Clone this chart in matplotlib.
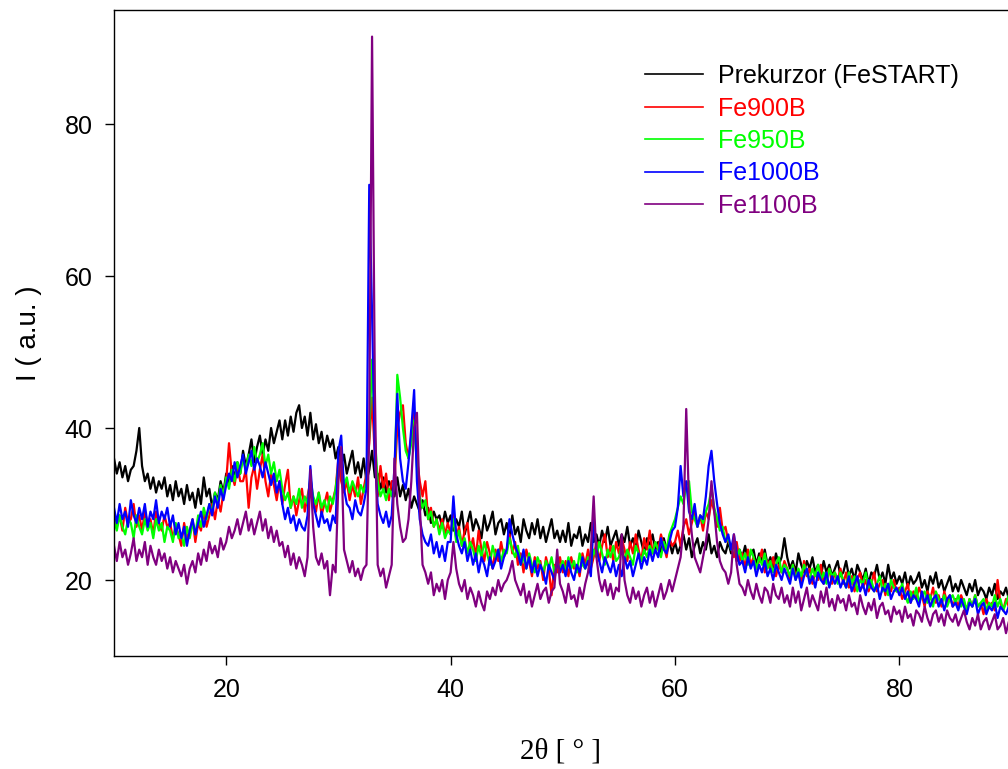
import numpy as np
import matplotlib
matplotlib.use("Agg")
import matplotlib.pyplot as plt

# XRD patterns, one value every 0.25 deg from 10 to 90
step = 0.25
start = 10

prekurzor = [
    36, 34, 35.5, 33.5, 35, 33, 34.5, 35, 37, 40, 35, 33, 34, 32, 33.5, 31.5, 33, 32, 33.5, 31,
    32.5, 30.5, 33, 31, 32, 30, 32.5, 30.5, 31.5, 29.5, 32, 30, 33.5, 31, 32, 29.5, 31.5, 30.5, 33, 31.5,
    34, 32.5, 35, 33.5, 35.5, 34, 37, 35, 36.5, 38.5, 35.5, 37.5, 39, 36.5, 38.5, 37, 40, 38, 39.5, 41,
    38.5, 41, 39, 41.5, 39.5, 42, 43, 40, 41.5, 39, 42, 38.5, 40.5, 38, 39.5, 37, 39, 37.5, 38.5, 36,
    37.5, 35, 36.5, 34, 35.5, 37, 34, 35.5, 33.5, 36, 33, 34.5, 37, 33.5, 34, 32, 33.5, 31.5, 33, 32,
    31, 33.5, 31, 32.5, 30.5, 32, 29.5, 31, 30, 29, 30.5, 28.5, 29.5, 27.5, 29, 28, 28.5, 27, 29, 27.5,
    28.5, 26.5, 28, 27, 29, 26, 27.5, 29, 26.5, 28, 27, 25.5, 28.5, 26.5, 27.5, 29, 26, 27.5, 28, 26,
    27.5, 25.5, 28.5, 26, 27, 25, 28, 26.5, 25.5, 27.5, 26, 28, 25.5, 27, 25, 26.5, 28, 25.5, 26.5, 25,
    26.5, 25, 27.5, 24.5, 26, 25.5, 27, 24.5, 26, 25, 27.5, 25, 26, 24.5, 26.5, 25, 27, 24.5, 25.5, 26.5,
    24.5, 26, 25, 27, 24.5, 25.5, 24, 26.5, 25, 23.5, 25.5, 24.5, 26, 24, 25, 23.5, 25.5, 24, 25, 23.5,
    25, 23.5, 24.5, 26, 24, 25.5, 23, 24.5, 25.5, 23.5, 25, 24, 26, 23.5, 24.5, 23, 25, 24, 23.5, 25,
    23.5, 25, 22.5, 24, 23, 24.5, 22.5, 23.5, 24, 22, 23.5, 22.5, 24, 22, 23, 21.5, 23.5, 22, 23, 25.5,
    23, 21.5, 22.5, 21, 23.5, 22, 21, 22.5, 21.5, 23, 21, 22, 20.5, 22.5, 21, 22, 20.5, 21.5, 22.5, 20.5,
    21, 22.5, 20.5, 21.5, 20, 22, 21, 20, 21.5, 19.5, 21, 20.5, 22, 20, 21, 19.5, 22, 20, 21, 19.5,
    20.5, 19.5, 21, 19, 20.5, 19.5, 20, 21, 19, 20, 18.5, 20.5, 19.5, 21, 19, 20, 18.5, 19.5, 20.5, 18.5,
    19.5, 18.5, 20, 19, 18, 19.5, 18.5, 20, 18, 19, 18.5, 17.5, 19, 18, 19.5, 17.5, 18.5, 18, 19, 17.5, 18.5,
]

fe900b = [
    29, 27, 28.5, 26.5, 29.5, 27.5, 28, 30, 27, 28.5, 26.5, 29, 27.5, 28, 26, 29, 27.5, 26.5, 28.5, 27,
    27.5, 25.5, 27, 26, 24.5, 27.5, 25.5, 26.5, 28, 25, 27.5, 26.5, 29, 27, 28.5, 30, 28, 30.5, 29, 31.5,
    33, 38, 34, 32.5, 35, 33, 33, 34.5, 29.5, 33.5, 35, 32, 34.5, 36.5, 33, 31, 34, 32.5, 30.5, 33,
    30, 32.5, 34.5, 29.5, 31, 28.5, 30.5, 32, 29, 31, 33, 30.5, 29, 31.5, 28.5, 30, 31.5, 29, 30.5, 32,
    36, 33, 31.5, 33, 30.5, 32.5, 31, 33.5, 30, 32, 34, 38, 44, 36, 31, 35, 32, 34, 30.5, 33,
    33, 40, 42, 43, 38, 36, 39, 42, 36, 33, 31, 33, 28, 29.5, 27, 28, 26.5, 28, 26, 27.5,
    26, 29, 25.5, 27, 24.5, 26.5, 27.5, 24, 25.5, 23, 26.5, 24, 22.5, 25, 23.5, 21.5, 24, 22.5, 25, 23,
    24, 26, 23.5, 25, 22, 23.5, 21, 24, 22.5, 20.5, 23, 21.5, 22.5, 20, 23, 21.5, 18, 22, 21, 23,
    21, 22.5, 20.5, 23, 21.5, 22, 20.5, 23.5, 22, 24, 21.5, 23, 25, 22.5, 24.5, 26, 23, 24.5, 22.5, 25,
    23.5, 25.5, 24, 22.5, 25, 23.5, 26, 24, 22.5, 25.5, 24, 26.5, 23.5, 25, 24, 26, 24.5, 23, 25.5, 24.5,
    25, 26.5, 24.5, 27, 28, 26, 27.5, 29, 27, 28.5, 26.5, 29, 28, 30.5, 29, 27, 29.5, 26.5, 27, 25,
    24.5, 23, 25, 22.5, 23.5, 21.5, 24, 22, 23, 21.5, 22.5, 24, 21, 22.5, 21.5, 23, 20.5, 22, 21, 22.5,
    21.5, 20, 22, 20.5, 21, 19.5, 22.5, 20.5, 21.5, 19.5, 21, 20, 22, 19.5, 20.5, 21.5, 19.5, 21, 20, 21.5,
    19.5, 21, 19, 20.5, 18.5, 20, 21, 19, 20, 18.5, 19.5, 21, 18.5, 19.5, 20, 18, 19.5, 18.5, 20, 18.5,
    19, 17.5, 18.5, 19.5, 17, 18.5, 17.5, 19, 18, 16.5, 18.5, 17.5, 19, 17, 18, 16.5, 18.5, 17, 18, 16.5,
    17.5, 16.5, 18, 17, 16, 17.5, 16.5, 18, 16.5, 17, 15.5, 17.5, 16.5, 17, 16, 20, 17, 16, 17.5, 16.5, 17,
]

fe950b = [
    28, 26.5, 28.5, 27, 26, 28, 27.5, 25.5, 28.5, 27, 26, 28, 26.5, 27.5, 25.5, 28, 26.5, 27.5, 25, 27,
    26.5, 25, 27.5, 25.5, 26, 24.5, 27, 25.5, 27.5, 26, 28.5, 27, 29.5, 28, 30, 29, 31.5, 30, 32.5, 31,
    33.5, 32, 34.5, 33, 35.5, 34, 36, 34.5, 36.5, 35, 37.5, 35.5, 36.5, 38, 35, 36.5, 34, 35.5, 33, 34.5,
    32, 30.5, 31.5, 29.5, 31, 30, 32, 29.5, 31, 30, 33.5, 31, 30, 31.5, 29.5, 30.5, 29, 31, 30, 32,
    35, 36.5, 32.5, 33.5, 31.5, 33, 32, 31, 32.5, 31.5, 33, 39, 49, 39, 33, 31, 32, 30.5, 32, 31,
    33, 47, 44, 40, 37, 36, 38, 41, 35, 31, 29.5, 30.5, 28, 29, 27, 28, 26, 27.5, 25.5, 26.5,
    26, 28, 25, 26.5, 24.5, 25.5, 23.5, 25, 24, 22.5, 24.5, 23, 25, 23.5, 22, 24.5, 23, 24, 22.5, 24,
    23.5, 25.5, 24, 23, 24.5, 22, 23, 21.5, 23.5, 22, 21, 23, 22, 21, 22.5, 21.5, 23, 21, 22.5, 21.5,
    22.5, 21, 23, 21.5, 22.5, 21, 23.5, 22, 21.5, 23, 22, 24, 23, 25, 23.5, 22, 24, 23, 24.5, 22.5,
    23, 24.5, 22.5, 24, 23, 22, 24.5, 23.5, 22.5, 24, 23, 24.5, 23.5, 25, 24, 23, 25, 24, 26, 27,
    28, 29.5, 31, 30, 32.5, 33, 29, 28, 27, 28.5, 27.5, 29, 30, 32, 29.5, 28, 26.5, 27, 25, 25.5,
    24, 25, 23, 24, 22.5, 23.5, 22, 24, 23, 21.5, 23, 22, 23.5, 21.5, 22.5, 21, 22, 23, 21, 22,
    21.5, 20.5, 22, 20, 21.5, 20.5, 22, 21, 20, 21.5, 20.5, 22, 20, 21, 19.5, 21.5, 20.5, 21, 19.5, 21,
    20, 19, 21, 19.5, 20.5, 18.5, 20, 19.5, 21, 19, 20, 18.5, 19.5, 20.5, 18.5, 19.5, 18, 20, 19, 18.5,
    18.5, 19.5, 18, 17, 18.5, 17.5, 19, 17, 18, 18.5, 17, 18, 16.5, 18.5, 17.5, 17, 18, 16.5, 17.5, 18,
    17, 18, 16.5, 17.5, 16, 17.5, 16.5, 18, 16.5, 17, 17.5, 16, 17, 16.5, 18, 16.5, 17.5, 16, 17, 18, 17,
]

fe1000b = [
    29.5, 27.5, 30, 28, 29, 27, 30.5, 28.5, 27.5, 29.5, 28, 30, 27, 29, 28, 30.5, 27.5, 29, 28, 29.5,
    27, 28.5, 26, 27.5, 25.5, 27, 24.5, 26.5, 28, 26, 27.5, 29, 27, 28.5, 30, 28.5, 31, 29.5, 32, 30.5,
    32.5, 34, 33, 35.5, 33.5, 35, 36.5, 34, 35.5, 37, 34.5, 36, 35, 33.5, 35.5, 34, 32.5, 34, 31.5, 33,
    30, 28, 29.5, 27.5, 28.5, 26.5, 28, 27, 26.5, 28.5, 35, 30, 28.5, 27, 29, 27.5, 28, 26.5, 28.5, 27.5,
    37, 39, 32, 30, 29.5, 28, 30.5, 29, 28.5, 30, 32, 72, 55, 36, 30, 28.5, 27.5, 29, 27, 28.5,
    35, 44.5, 36, 33, 32, 35.5, 40, 45, 33, 28, 26, 25, 24.5, 26, 23.5, 25, 23, 24.5, 22.5, 25,
    25, 31, 26, 24.5, 23.5, 25, 22.5, 24, 22, 23.5, 21, 23, 22, 20.5, 23, 21.5, 22.5, 24, 21.5, 23,
    24, 28, 26, 24.5, 23.5, 22, 24, 21.5, 23, 21, 22.5, 20.5, 22, 21, 19.5, 22, 21, 20, 22.5, 21,
    22, 20.5, 22.5, 21, 20, 22, 21, 23, 21.5, 22.5, 20.5, 28, 24, 22.5, 21, 23, 22, 21, 22.5, 20.5,
    22, 20.5, 23, 21.5, 22.5, 20.5, 22, 23.5, 21.5, 23, 22, 24, 22.5, 24, 23, 25.5, 24, 23.5, 25, 26.5,
    27, 29.5, 35, 31, 33, 29, 28, 30, 27, 28.5, 28, 31, 35, 37, 33, 30, 27.5, 26, 25, 26,
    24, 26, 23.5, 22, 22.5, 21, 23, 21.5, 22.5, 20.5, 22, 21, 22.5, 20.5, 21.5, 20, 22, 21, 20, 21.5,
    20.5, 19.5, 21.5, 20, 21, 19, 20.5, 21.5, 19.5, 20.5, 19, 21, 20, 19.5, 21, 19, 20.5, 19.5, 20.5, 19,
    20, 19, 20.5, 18.5, 19.5, 20.5, 18.5, 19.5, 18, 20, 19, 18.5, 19.5, 17.5, 19, 18.5, 19.5, 17.5, 18.5, 19,
    18, 19, 17.5, 18.5, 17, 18, 17.5, 16.5, 18.5, 17, 18, 16.5, 17.5, 18, 16.5, 17.5, 16, 17.5, 18, 16.5,
    17, 16, 17.5, 16.5, 15.5, 17, 16.5, 17.5, 15.5, 16.5, 17, 15.5, 16.5, 16, 17, 15, 16.5, 16, 15.5, 16.5, 15.5,
]

fe1100b = [
    24.5, 22.5, 25, 23, 24, 22, 23.5, 25.5, 22.5, 24, 23, 25, 22, 24.5, 23, 22, 24, 22.5, 23.5, 21.5,
    23, 21, 22.5, 21.5, 20.5, 22, 19.5, 21.5, 22.5, 21, 23.5, 22, 24, 22.5, 25, 23.5, 24.5, 23, 25.5, 24,
    25, 27, 25.5, 26.5, 28, 26, 27.5, 29, 26.5, 28, 26, 27.5, 29, 26.5, 28, 25.5, 27, 25, 26.5, 24.5,
    25, 23, 24.5, 22, 23.5, 21.5, 23, 22, 20.5, 23, 34.5, 27, 23, 22, 23.5, 21.5, 22.5, 18, 22, 21,
    33, 37.5, 24, 22.5, 21, 22.5, 20.5, 21.5, 20, 21.5, 22, 40, 91.5, 45, 22, 20.5, 21.5, 19, 20.5, 22,
    36, 30, 27, 25, 25.5, 28, 33, 40, 42, 30, 22, 21, 19.5, 21, 18, 19.5, 18.5, 20, 17.5, 20,
    21, 25, 21.5, 19.5, 18.5, 20, 17.5, 19, 18, 16.5, 18.5, 17, 16, 18.5, 17.5, 19, 18, 20, 18.5, 19.5,
    20, 21, 22.5, 20, 19, 18, 19.5, 17, 18.5, 16.5, 18, 19.5, 17.5, 18.5, 19, 17, 18.5, 19, 24, 19.5,
    18.5, 17, 19.5, 17.5, 18, 16.5, 19, 17.5, 19.5, 21, 24, 31, 23, 20, 18.5, 20, 18, 19.5, 17.5, 19,
    18.5, 26, 20, 18, 17, 19, 17.5, 18.5, 16.5, 18, 19, 17, 18.5, 16.5, 18, 19.5, 17.5, 18.5, 20, 18.5,
    20, 21.5, 23, 27, 42.5, 30, 26, 23, 22, 21, 23, 25, 28, 33, 29, 25, 22.5, 21.5, 21, 19.5,
    21, 26, 22, 19.5, 19, 18, 20, 18.5, 17.5, 19.5, 18, 17, 19, 18.5, 17, 19.5, 18, 17.5, 19, 17,
    18, 16.5, 19, 17, 18.5, 16, 17.5, 19, 16.5, 18, 17, 16, 18.5, 17, 19, 16.5, 17.5, 16, 18, 17,
    17.5, 16, 18, 16.5, 17, 15.5, 18, 16.5, 15.5, 17, 16, 17.5, 15, 16.5, 17, 15.5, 16, 14.5, 16.5, 15.5,
    16, 14.5, 16.5, 15, 15.5, 14, 16, 15.5, 14.5, 16.5, 15, 14, 15.5, 16, 14.5, 15.5, 14, 16, 15, 14.5,
    15.5, 14, 15, 16, 14.5, 13.5, 15, 14, 15.5, 13.5, 14.5, 15, 13.5, 14.5, 15.5, 13.5, 14, 15, 13, 14.5, 14,
]

series = [
    ("Prekurzor (FeSTART)", prekurzor, "black"),
    ("Fe900B", fe900b, "#ff0000"),
    ("Fe950B", fe950b, "#00ff00"),
    ("Fe1000B", fe1000b, "#0000ff"),
    ("Fe1100B", fe1100b, "#800080"),
]

plt.rcParams['font.family'] = ['Liberation Sans', 'DejaVu Sans']

fig = plt.figure(figsize=(10.08, 7.69), dpi=100)
ax = fig.add_axes([114 / 1008, 113 / 769, 897.6 / 1008, 646 / 769])

for name, vals, col in series:
    x = start + step * np.arange(len(vals))
    ax.plot(x, vals, color=col, lw=1.6, label=name)

ax.set_xlim(10, 90)
ax.set_ylim(10, 95)
ax.set_xticks([20, 40, 60, 80])
ax.set_yticks([20, 40, 60, 80])
ax.tick_params(direction='out', length=6.5, width=1, labelsize=18, pad=9)
for s in ax.spines.values():
    s.set_linewidth(1.0)

ax.set_ylabel("I ( a.u. )", fontsize=20)
ax.yaxis.set_label_coords(-0.080, 0.5)
ax.set_xlabel("2θ [ ° ]", fontsize=21, family=['Liberation Serif', 'DejaVu Serif'])
ax.xaxis.set_label_coords(0.497, -0.127)

leg = ax.legend(loc='upper left', bbox_to_anchor=(645 / 1008, 1 - 64 / 769),
                bbox_transform=fig.transFigure, frameon=False, fontsize=18,
                handlelength=2.3, handletextpad=0.6, labelspacing=0.34,
                borderpad=0, borderaxespad=0)
for txt, (name, vals, col) in zip(leg.get_texts(), series):
    txt.set_color(col)
for h in leg.get_lines():
    h.set_linewidth(1.2)

fig.savefig("out.png", dpi=100)
